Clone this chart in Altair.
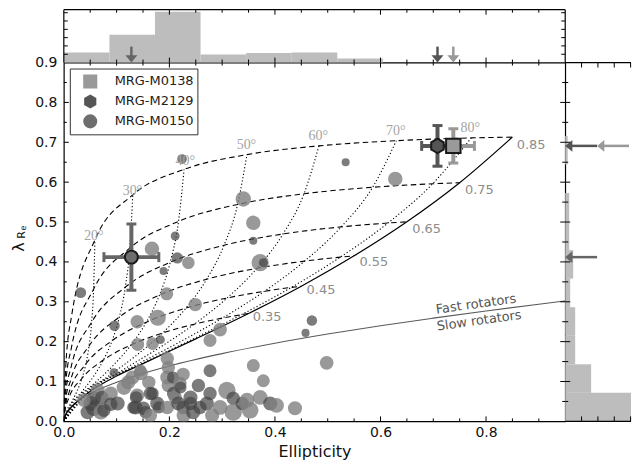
import altair as alt
import pandas as pd

W, H, HT, WR = 503, 360, 53, 66
FONT = "DejaVu Sans"

# ---------------- sample galaxies: ellipticity, lambda_Re, tone (L/D), marker area -------------
gal_eps = [0.032, 0.167, 0.211, 0.215, 0.236, 0.189, 0.195, 0.249, 0.178, 0.139,
           0.096, 0.140, 0.168, 0.183, 0.296, 0.277, 0.359, 0.372, 0.378, 0.470,
           0.458, 0.498, 0.224, 0.340, 0.359, 0.534, 0.628, 0.095, 0.359, 0.378,
           0.277,
           0.045, 0.051, 0.057, 0.057, 0.038, 0.064, 0.072, 0.070, 0.076, 0.089,
           0.089, 0.102, 0.114, 0.122, 0.130, 0.146, 0.145, 0.139, 0.137, 0.136,
           0.132, 0.151, 0.155, 0.161, 0.164, 0.168, 0.177, 0.180, 0.164, 0.196,
           0.198, 0.196, 0.198, 0.207, 0.208, 0.211, 0.196, 0.220, 0.226, 0.221,
           0.217, 0.226, 0.227, 0.240, 0.240, 0.245, 0.255, 0.258, 0.271, 0.281,
           0.277, 0.296, 0.309, 0.321, 0.321, 0.338, 0.347, 0.353, 0.372, 0.391,
           0.403, 0.438]
gal_lam = [0.323, 0.433, 0.465, 0.410, 0.398, 0.377, 0.320, 0.293, 0.260, 0.250,
           0.240, 0.193, 0.195, 0.205, 0.230, 0.203, 0.453, 0.398, 0.398, 0.253,
           0.222, 0.147, 0.658, 0.558, 0.498, 0.650, 0.608, 0.122, 0.140, 0.102,
           0.127,
           0.023, 0.045, 0.058, 0.033, 0.053, 0.078, 0.060, 0.023, 0.028, 0.070,
           0.043, 0.045, 0.085, 0.098, 0.110, 0.121, 0.128, 0.065, 0.060, 0.035,
           0.035, 0.033, 0.023, 0.098, 0.070, 0.070, 0.045, 0.035, 0.015, 0.158,
           0.135, 0.110, 0.090, 0.110, 0.070, 0.060, 0.035, 0.095, 0.118, 0.085,
           0.045, 0.035, 0.015, 0.060, 0.045, 0.023, 0.090, 0.035, 0.045, 0.015,
           0.070, 0.035, 0.078, 0.058, 0.023, 0.045, 0.053, 0.028, 0.060, 0.045,
           0.040, 0.033]
gal_tone = list("DLDDLDLLLLDLLDLLDLDDDLDLLDLDLLD"
                "DDDDLLDLDLDDLLLLLLDDDDDLDDDDLLLLLDDLLLLDDDLDDDDDDLDLLDLDLLLDLL")
gal_size = [120, 210, 80, 130, 160, 65, 170, 180, 260, 180,
            110, 170, 160, 80, 190, 170, 65, 300, 80, 110,
            65, 190, 95, 240, 210, 65, 210, 80, 170, 170,
            170,
            200, 220, 200, 250, 180, 200, 180, 220, 180, 200,
            180, 200, 220, 200, 200, 200, 150, 200, 160, 200,
            160, 180, 160, 180, 180, 160, 200, 150, 180, 180,
            180, 200, 180, 150, 180, 180, 180, 180, 180, 150,
            200, 180, 200, 200, 180, 200, 180, 180, 200, 200,
            180, 220, 300, 180, 300, 180, 220, 280, 220, 200,
            220, 200]

# ---------------- the three MRG objects ----------------
mrg_name = ["MRG-M0138", "MRG-M2129", "MRG-M0150"]
mrg_eps = [0.738, 0.708, 0.128]
mrg_lam = [0.691, 0.691, 0.412]
mrg_eps_err = [0.040, 0.030, 0.052]
mrg_lam_err = [0.043, 0.051, 0.083]
mrg_fill = ["#9a9a9a", "#555555", "#6e6e6e"]
mrg_bar = ["#999999", "#555555", "#666666"]
mrg_size = [210, 210, 170]
mrg_arrow_tip = [32, 0, 0]      # right-panel arrow tips (px from panel edge)

# ---------------- model grid ----------------
incl = [0, 5, 10, 20, 30, 40, 50, 60, 70, 80, 90]
e85_x = [0, 0.0037, 0.0149, 0.0589, 0.1307, 0.2279, 0.3470, 0.4834, 0.6301, 0.7720, 0.85]
e85_y = [0, 0.139, 0.266, 0.455, 0.568, 0.632, 0.669, 0.691, 0.704, 0.711, 0.713]
e75_x = [0, 0.0036, 0.0142, 0.0564, 0.1250, 0.2173, 0.3293, 0.4551, 0.5851, 0.6987, 0.75]
e75_y = [0, 0.0945, 0.1836, 0.3315, 0.4345, 0.5015, 0.5441, 0.5709, 0.5872, 0.5959, 0.5987]
e65_x = [0, 0.0033, 0.0133, 0.0527, 0.1165, 0.2016, 0.3035, 0.4153, 0.5255, 0.6141, 0.65]
e65_y = [0, 0.0683, 0.1338, 0.2487, 0.3366, 0.3991, 0.4417, 0.4700, 0.4878, 0.4975, 0.5007]
e55_x = [0, 0.0030, 0.0121, 0.0478, 0.1052, 0.1812, 0.2706, 0.3661, 0.4561, 0.5240, 0.55]
e55_y = [0, 0.0507, 0.0999, 0.1892, 0.2617, 0.3168, 0.3566, 0.3840, 0.4020, 0.4120, 0.4153]
e45_x = [0, 0.0027, 0.0106, 0.0417, 0.0914, 0.1563, 0.2314, 0.3094, 0.3803, 0.4312, 0.45]
e45_y = [0, 0.0380, 0.0751, 0.1439, 0.2023, 0.2489, 0.2842, 0.3095, 0.3264, 0.3361, 0.3392]
e35_x = [0, 0.0022, 0.0087, 0.0344, 0.0750, 0.1274, 0.1869, 0.2471, 0.3000, 0.3367, 0.35]
e35_y = [0, 0.0282, 0.0559, 0.1081, 0.1539, 0.1918, 0.2216, 0.2438, 0.2590, 0.2678, 0.2707]
incl_low = [20, 30, 40, 50, 60, 70, 80, 90]
e25_x = [0.0259, 0.0563, 0.0949, 0.1379, 0.1803, 0.2166, 0.2413, 0.25]
e25_y = [0.0785, 0.1128, 0.1421, 0.1660, 0.1842, 0.1969, 0.2045, 0.2069]
e15_x = [0.0164, 0.0353, 0.0591, 0.0850, 0.1101, 0.1311, 0.1451, 0.15]
e15_y = [0.0526, 0.0761, 0.0968, 0.1140, 0.1276, 0.1373, 0.1431, 0.1448]
e05_x = [0.0057, 0.0123, 0.0204, 0.0290, 0.0373, 0.0440, 0.0485, 0.05]
e05_y = [0.0263, 0.0383, 0.0491, 0.0582, 0.0656, 0.0710, 0.0743, 0.0754]
dotted_incl = [20, 30, 40, 50, 60, 70, 80]

edge_x = [0, 0.002, 0.01, 0.02, 0.05, 0.1, 0.15, 0.25, 0.35, 0.45, 0.55, 0.65, 0.75, 0.85]
edge_y = [0, 0.011, 0.029, 0.043, 0.0754, 0.1137, 0.1448, 0.2069, 0.2707, 0.3392,
          0.4153, 0.5007, 0.5987, 0.7132]

fs_x = [0, 0.005, 0.02, 0.05, 0.1, 0.2, 0.3, 0.4, 0.5, 0.6, 0.7, 0.8, 0.9, 0.95]
fs_y = [0, 0.022, 0.044, 0.069, 0.098, 0.139, 0.170, 0.196, 0.219, 0.240, 0.259,
        0.277, 0.294, 0.302]

# labels
lab_text = ["0.85", "0.75", "0.65", "0.55", "0.45", "0.35"]
lab_x = [0.858, 0.760, 0.660, 0.560, 0.460, 0.358]
lab_y = [0.6925, 0.580, 0.4825, 0.400, 0.330, 0.2625]
deg_text = ["20°", "30°", "40°", "50°", "60°", "70°", "80°"]
deg_x = [0.057, 0.130, 0.230, 0.346, 0.482, 0.629, 0.770]
deg_y = [0.465, 0.5775, 0.6525, 0.6925, 0.715, 0.7275, 0.735]
fs_text = ["Fast rotators", "Slow rotators"]
fs_tx = [0.781, 0.787]
fs_ty = [0.294, 0.2525]

# histograms
top_lo = [0.0, 0.0864, 0.1727, 0.2591, 0.3455, 0.4318, 0.5182]
top_hi = [0.0864, 0.1727, 0.2591, 0.3455, 0.4318, 0.5182, 0.6045]
top_count = [10, 28, 51, 8, 9.5, 10, 4]
right_lo = [0.0, 0.0716, 0.1432, 0.2148, 0.2864, 0.3580, 0.4296, 0.5012, 0.5728, 0.6444]
right_hi = [0.0716, 0.1432, 0.2148, 0.2864, 0.3580, 0.4296, 0.5012, 0.5728, 0.6444, 0.7160]
right_count = [100, 26, 10, 10, 5, 8, 4, 4, 0, 2.5]

# tick positions
x_labels = [0, 0.2, 0.4, 0.6, 0.8]
y_labels = [0, 0.1, 0.2, 0.3, 0.4, 0.5, 0.6, 0.7, 0.8, 0.9]
x_major = [0.2, 0.4, 0.6, 0.8]
x_minor = [0.05, 0.1, 0.15, 0.25, 0.3, 0.35, 0.45, 0.5, 0.55, 0.65, 0.7, 0.75, 0.85, 0.9]
y_major = [0.1, 0.2, 0.3, 0.4, 0.5, 0.6, 0.7, 0.8]
y_minor = [0.05, 0.15, 0.25, 0.35, 0.45, 0.55, 0.65, 0.75, 0.85]
top_side_ticks = [8.3, 16.7, 25.0, 33.3, 41.7, 50.0]
right_top_ticks = [16.4, 32.8, 49.2, 65.6]

# ---------------- scales (one view; side panels live outside the plot rectangle) --------
xs = alt.Scale(domain=[0, 0.95], range=[0, W], nice=False, zero=False)
ys = alt.Scale(domain=[0, 0.9], range=[H, 0], nice=False, zero=False)
ys_top = alt.Scale(domain=[0, HT], range=[0, -HT], nice=False, zero=False)
xs_r = alt.Scale(domain=[0, WR], range=[W, W + WR], nice=False, zero=False, clamp=True)

ONE = pd.DataFrame({"a": [0]})


def tick_layer(vals, chan, scale, a, b):
    """inward tick marks: vals along a scale, from pixel a to pixel b across"""
    d = pd.DataFrame({"t": vals})
    base = alt.Chart(d).mark_rule(color="black", strokeWidth=1)
    if chan == "x":
        return base.encode(x=alt.X("t:Q", scale=scale, axis=None),
                           y=alt.value(a), y2=alt.value(b))
    return base.encode(y=alt.Y("t:Q", scale=scale, axis=None),
                       x=alt.value(a), x2=alt.value(b))


def frame(x1, x2, y1, y2):
    return alt.Chart(ONE).mark_rule(color="black", strokeWidth=1.2).encode(
        x=alt.value(x1), x2=alt.value(x2), y=alt.value(y1), y2=alt.value(y2))


# ---------------- model line tables ----------------
dash_sets = [(0.85, e85_x, e85_y), (0.75, e75_x, e75_y), (0.65, e65_x, e65_y),
             (0.55, e55_x, e55_y), (0.45, e45_x, e45_y), (0.35, e35_x, e35_y)]
low_sets = [(0.05, e05_x, e05_y), (0.15, e15_x, e15_y), (0.25, e25_x, e25_y)]

rows = []
for e, xx, yy in dash_sets:
    for k, (a, b) in enumerate(zip(xx, yy)):
        rows.append({"line": e, "k": k, "x": a, "y": b})
dashed = pd.DataFrame(rows)

rows = []
for inc in dotted_incl:
    rows.append({"line": inc, "k": 0, "x": 0.0, "y": 0.0})
    k = 1
    for e, xx, yy in low_sets:
        i = incl_low.index(inc)
        rows.append({"line": inc, "k": k, "x": xx[i], "y": yy[i]})
        k += 1
    for e, xx, yy in reversed(dash_sets):
        i = incl.index(inc)
        rows.append({"line": inc, "k": k, "x": xx[i], "y": yy[i]})
        k += 1
dotted = pd.DataFrame(rows)

edge = pd.DataFrame({"line": 0, "k": range(len(edge_x)), "x": edge_x, "y": edge_y})
fsline = pd.DataFrame({"line": 0, "k": range(len(fs_x)), "x": fs_x, "y": fs_y})


def line_layer(data, color="black", width=1.1, dash=None):
    mk = dict(color=color, strokeWidth=width, interpolate="monotone", clip=True)
    if dash:
        mk["strokeDash"] = dash
    return alt.Chart(data).mark_line(**mk).encode(
        x=alt.X("x:Q", scale=xs, axis=None),
        y=alt.Y("y:Q", scale=ys, axis=None),
        detail="line:N", order="k:Q")


# ---------------- axes ----------------
axis_df = pd.DataFrame({"ax": [0.0, 0.95], "ay": [0.0, 0.9]})
axes_layer = alt.Chart(axis_df).mark_point(opacity=0, size=1).encode(
    x=alt.X("ax:Q", scale=xs, axis=alt.Axis(
        values=x_labels, format=".1f", ticks=False, domain=False,
        grid=False, labelFlush=False, labelPadding=4, labelFontSize=14,
        title="Ellipticity", titleFontSize=16, titleFontWeight="normal", titlePadding=4)),
    y=alt.Y("ay:Q", scale=ys, axis=alt.Axis(
        values=y_labels, format=".1f",
        ticks=False, domain=False, grid=False, labelFlush=False, labelPadding=7,
        labelFontSize=14, title="")),
)

# ---------------- main marks ----------------
gal = pd.DataFrame({"eps": gal_eps, "lam": gal_lam, "tone": gal_tone, "size": gal_size})
gal["col"] = gal["tone"].map({"L": "#808080", "D": "#444444"})
gal["op"] = gal["tone"].map({"L": 0.8, "D": 0.7})

scatter = alt.Chart(gal).mark_circle(clip=True).encode(
    x=alt.X("eps:Q", scale=xs, axis=None),
    y=alt.Y("lam:Q", scale=ys, axis=None),
    size=alt.Size("size:Q", scale=None, legend=None),
    color=alt.Color("col:N", scale=None),
    opacity=alt.Opacity("op:Q", scale=None, legend=None),
)

labels_eps = alt.Chart(pd.DataFrame({"t": lab_text, "x": lab_x, "y": lab_y})).mark_text(
    align="left", baseline="middle", fontSize=13, font=FONT, color="#8c8c8c").encode(
    x=alt.X("x:Q", scale=xs, axis=None), y=alt.Y("y:Q", scale=ys, axis=None), text="t:N")
labels_deg = alt.Chart(pd.DataFrame({"t": deg_text, "x": deg_x, "y": deg_y})).mark_text(
    align="center", baseline="middle", fontSize=14, font="Liberation Serif",
    color="#a3a3a3").encode(
    x=alt.X("x:Q", scale=xs, axis=None), y=alt.Y("y:Q", scale=ys, axis=None), text="t:N")
labels_fs = alt.Chart(pd.DataFrame({"t": fs_text, "x": fs_tx, "y": fs_ty})).mark_text(
    align="center", baseline="middle", fontSize=13, font=FONT, color="#555555",
    angle=352).encode(
    x=alt.X("x:Q", scale=xs, axis=None), y=alt.Y("y:Q", scale=ys, axis=None), text="t:N")

mrg = pd.DataFrame({"name": mrg_name, "eps": mrg_eps, "lam": mrg_lam,
                    "ex": mrg_eps_err, "ey": mrg_lam_err, "bar": mrg_bar,
                    "msize": mrg_size})
mrg["x0"] = mrg["eps"] - mrg["ex"]
mrg["x1"] = mrg["eps"] + mrg["ex"]
mrg["y0"] = mrg["lam"] - mrg["ey"]
mrg["y1"] = mrg["lam"] + mrg["ey"]

hbar = alt.Chart(mrg).mark_rule(strokeWidth=4).encode(
    x=alt.X("x0:Q", scale=xs, axis=None), x2="x1:Q",
    y=alt.Y("lam:Q", scale=ys, axis=None), color=alt.Color("bar:N", scale=None))
vbar = alt.Chart(mrg).mark_rule(strokeWidth=4).encode(
    x=alt.X("eps:Q", scale=xs, axis=None),
    y=alt.Y("y0:Q", scale=ys, axis=None), y2="y1:Q", color=alt.Color("bar:N", scale=None))
capx = pd.concat([mrg.assign(cx=mrg["x0"]), mrg.assign(cx=mrg["x1"])])
capy = pd.concat([mrg.assign(cy=mrg["y0"]), mrg.assign(cy=mrg["y1"])])
caps_x = alt.Chart(capx).mark_tick(orient="vertical", thickness=3, size=10, opacity=1).encode(
    x=alt.X("cx:Q", scale=xs, axis=None), y=alt.Y("lam:Q", scale=ys, axis=None),
    color=alt.Color("bar:N", scale=None))
caps_y = alt.Chart(capy).mark_tick(orient="horizontal", thickness=3, size=10, opacity=1).encode(
    x=alt.X("eps:Q", scale=xs, axis=None), y=alt.Y("cy:Q", scale=ys, axis=None),
    color=alt.Color("bar:N", scale=None))

hexpath = "M0,-1L0.866,-0.5L0.866,0.5L0,1L-0.866,0.5L-0.866,-0.5Z"
leg = alt.Legend(orient="top-left", offset=6, title=None, padding=3, fillColor="white",
                 strokeColor="#333333", cornerRadius=0, symbolSize=200,
                 symbolStrokeColor="#1a1a1a", symbolStrokeWidth=2.4, symbolOffset=9,
                 labelOffset=16, labelFontSize=13, labelFont=FONT, labelColor="#222222",
                 rowPadding=0, clipHeight=20)
markers = alt.Chart(mrg).mark_point(filled=True, opacity=1, stroke="#1a1a1a",
                                    strokeWidth=2).encode(
    x=alt.X("eps:Q", scale=xs, axis=None), y=alt.Y("lam:Q", scale=ys, axis=None),
    size=alt.Size("msize:Q", scale=None, legend=None),
    shape=alt.Shape("name:N", scale=alt.Scale(domain=mrg_name,
                                              range=["square", hexpath, "circle"]),
                    legend=leg),
    fill=alt.Fill("name:N", scale=alt.Scale(domain=mrg_name, range=mrg_fill), legend=leg),
)


def ytitle_part(txt, size, px, py):
    return alt.Chart(ONE).mark_text(text=txt, fontSize=size, font=FONT, angle=270,
                                    align="center", baseline="middle", color="#111111").encode(
        x=alt.value(px), y=alt.value(py))


# ---------------- top histogram (above the plot) ----------------
down_arrow = "M-1,-0.2L1,-0.2L0,1Z"
left_arrow = "M0.2,-1L0.2,1L-1,0Z"

top_df = pd.DataFrame({"lo": top_lo, "hi": top_hi, "n": top_count})
top_bars = alt.Chart(top_df).mark_rect(color="#bdbdbd").encode(
    x=alt.X("lo:Q", scale=xs, axis=None), x2="hi:Q",
    y=alt.Y("n:Q", scale=ys_top, axis=None), y2=alt.datum(0))
tarr = pd.DataFrame({"eps": mrg_eps, "bar": mrg_bar, "s0": 16, "s1": 2, "h": 6})
tarr = tarr.iloc[[2, 1, 0]]
top_shaft = alt.Chart(tarr).mark_rule(strokeWidth=2.5).encode(
    x=alt.X("eps:Q", scale=xs, axis=None), y=alt.Y("s0:Q", scale=ys_top, axis=None),
    y2="s1:Q", color=alt.Color("bar:N", scale=None))
top_head = alt.Chart(tarr).mark_point(shape=down_arrow, filled=True, size=144,
                                      opacity=1).encode(
    x=alt.X("eps:Q", scale=xs, axis=None), y=alt.Y("h:Q", scale=ys_top, axis=None),
    color=alt.Color("bar:N", scale=None))

# ---------------- right histogram (right of the plot) ----------------
r_df = pd.DataFrame({"lo": right_lo, "hi": right_hi, "w": right_count})
r_bars = alt.Chart(r_df).mark_rect(color="#bdbdbd").encode(
    y=alt.Y("lo:Q", scale=ys, axis=None), y2="hi:Q",
    x=alt.X("w:Q", scale=xs_r, axis=None), x2=alt.datum(0))
rarr = pd.DataFrame({"lam": mrg_lam, "bar": mrg_bar, "tip": mrg_arrow_tip})
rarr["tail"] = rarr["tip"] + 32
rarr["s0"] = rarr["tip"] + 4
rarr["h"] = rarr["tip"] + 6
rarr = rarr.iloc[[2, 1, 0]]
r_shaft = alt.Chart(rarr).mark_rule(strokeWidth=2.5).encode(
    y=alt.Y("lam:Q", scale=ys, axis=None), x=alt.X("s0:Q", scale=xs_r, axis=None),
    x2="tail:Q", color=alt.Color("bar:N", scale=None))
r_head = alt.Chart(rarr).mark_point(shape=left_arrow, filled=True, size=144,
                                    opacity=1).encode(
    y=alt.Y("lam:Q", scale=ys, axis=None), x=alt.X("h:Q", scale=xs_r, axis=None),
    color=alt.Color("bar:N", scale=None))

chart = alt.layer(
    axes_layer,
    # side panels
    top_bars, top_shaft, top_head,
    frame(0, W, -HT, -HT), frame(0, 0, -HT, 0), frame(W, W, -HT, 0),
    tick_layer(x_major, "x", xs, 0, -5), tick_layer(x_minor, "x", xs, 0, -3),
    tick_layer(x_major, "x", xs, -HT, -HT + 5), tick_layer(x_minor, "x", xs, -HT, -HT + 3),
    tick_layer(top_side_ticks, "y", ys_top, 0, 4),
    tick_layer(top_side_ticks, "y", ys_top, W, W - 4),
    r_bars, r_shaft, r_head,
    frame(W, W + WR, 0, 0), frame(W, W + WR, H, H),
    tick_layer(right_top_ticks, "x", xs_r, 0, 5),
    tick_layer(right_top_ticks, "x", xs_r, H, H - 5),
    tick_layer(y_major, "y", ys, W, W + 5), tick_layer(y_minor, "y", ys, W, W + 3),
    # main plot
    line_layer(fsline, color="#5a5a5a", width=1.1),
    line_layer(dotted, dash=[1.2, 2.2]),
    line_layer(dashed, dash=[5.5, 3.5]),
    line_layer(edge, width=1.2),
    scatter,
    labels_eps, labels_deg, labels_fs,
    hbar, vbar, caps_x, caps_y, markers,
    tick_layer(x_major, "x", xs, H, H - 5), tick_layer(x_minor, "x", xs, H, H - 3),
    tick_layer(x_major, "x", xs, 0, 5), tick_layer(x_minor, "x", xs, 0, 3),
    tick_layer(y_major, "y", ys, 0, 5), tick_layer(y_minor, "y", ys, 0, 3),
    tick_layer(y_major, "y", ys, W, W - 5), tick_layer(y_minor, "y", ys, W, W - 3),
    ytitle_part("λ", 16, -45, 185),
    ytitle_part("R", 11, -42, 173),
    ytitle_part("e", 8, -40, 166),
).resolve_scale(x="independent", y="independent").properties(
    width=W, height=H, padding={"left": 3, "top": 0, "right": 0, "bottom": 0}
).configure_view(stroke="black", strokeWidth=1.2).configure_axis(
    labelFont=FONT, titleFont=FONT, labelColor="#111111", titleColor="#111111")

chart.save("out.html", embed_options={"renderer": "svg", "actions": False})
